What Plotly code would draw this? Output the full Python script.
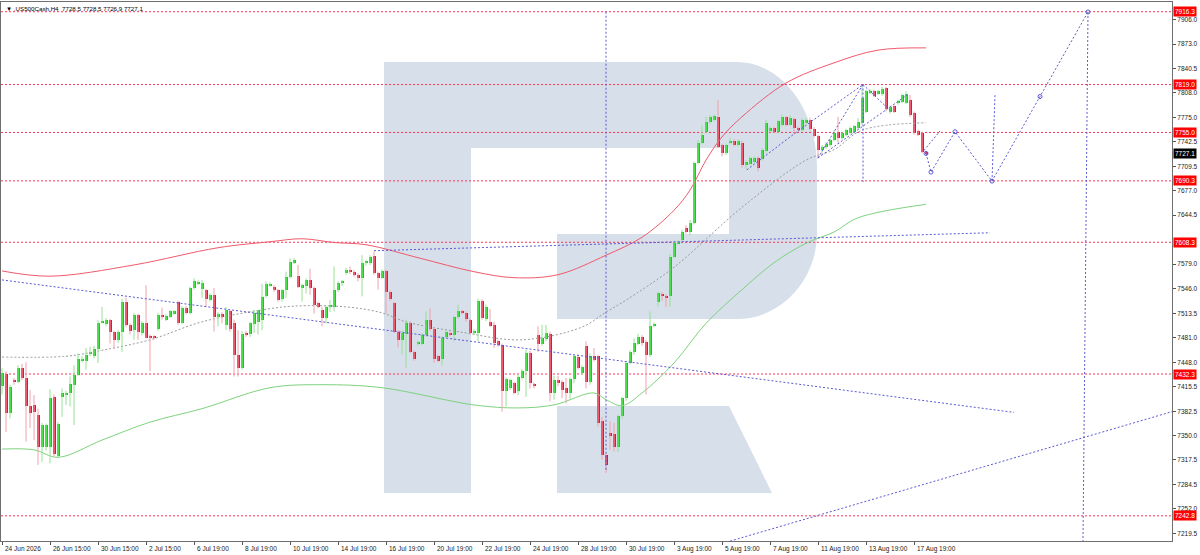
import plotly.graph_objects as go

# ---- price data (H4 bars) ----
OPEN = [7416, 7432, 7380, 7424, 7422, 7441, 7427, 7390, 7391, 7377,
        7335, 7335, 7335, 7401, 7323, 7402, 7404, 7407, 7418, 7431,
        7451, 7450, 7460, 7456, 7466, 7501, 7499, 7504, 7489, 7478,
        7489, 7528, 7498, 7491, 7511, 7487, 7500, 7483, 7483, 7492,
        7511, 7505, 7509, 7513, 7528, 7501, 7521, 7514, 7547, 7553,
        7546, 7544, 7531, 7538, 7509, 7513, 7498, 7516, 7501, 7458,
        7440, 7487, 7486, 7499, 7502, 7504, 7536, 7551, 7549, 7544,
        7532, 7544, 7562, 7581, 7563, 7547, 7550, 7558, 7547, 7527,
        7518, 7507, 7522, 7522, 7544, 7554, 7567, 7571, 7569, 7565,
        7560, 7580, 7580, 7590, 7567, 7561, 7570, 7542, 7527, 7489,
        7478, 7486, 7501, 7462, 7473, 7473, 7485, 7505, 7492, 7456,
        7453, 7482, 7487, 7485, 7508, 7516, 7514, 7505, 7488, 7487,
        7530, 7506, 7502, 7498, 7476, 7471, 7409, 7413, 7420, 7409,
        7427, 7436, 7461, 7419, 7484, 7473, 7479, 7486, 7407, 7424,
        7422, 7414, 7407, 7425, 7455, 7433, 7470, 7421, 7456, 7456,
        7369, 7324, 7354, 7352, 7335, 7376, 7400, 7447, 7462, 7473,
        7482, 7475, 7458, 7497, 7529, 7539, 7537, 7536, 7589, 7607,
        7611, 7627, 7622, 7634, 7714, 7741, 7756, 7769, 7772, 7776,
        7738, 7727, 7741, 7744, 7738, 7741, 7712, 7713, 7716, 7721,
        7719, 7730, 7757, 7761, 7756, 7765, 7775, 7765, 7773, 7761,
        7758, 7768, 7772, 7760, 7750, 7732, 7735, 7738, 7745, 7756,
        7747, 7752, 7754, 7756, 7761, 7767, 7783, 7808, 7810, 7807,
        7806, 7814, 7783, 7790, 7794, 7796, 7795, 7798, 7781, 7757,
        7754, 7728.5]
HIGH = [7440, 7436, 7418, 7427, 7444, 7446, 7448, 7411, 7404, 7386,
        7367, 7366, 7412, 7405, 7368, 7413, 7410, 7429, 7444, 7460,
        7456, 7467, 7469, 7470, 7504, 7522, 7507, 7506, 7490, 7491,
        7533, 7534, 7500, 7514, 7513, 7503, 7551, 7485, 7484, 7514,
        7521, 7512, 7518, 7518, 7530, 7523, 7523, 7549, 7560, 7558,
        7558, 7546, 7540, 7547, 7515, 7515, 7522, 7518, 7505, 7491,
        7490, 7490, 7502, 7518, 7518, 7553, 7556, 7555, 7551, 7546,
        7546, 7569, 7587, 7587, 7578, 7553, 7560, 7573, 7549, 7529,
        7522, 7524, 7531, 7576, 7556, 7558, 7574, 7576, 7571, 7567,
        7591, 7585, 7591, 7596, 7569, 7572, 7572, 7544, 7529, 7491,
        7491, 7505, 7503, 7464, 7477, 7487, 7516, 7520, 7495, 7458,
        7483, 7490, 7489, 7510, 7525, 7518, 7516, 7507, 7492, 7533,
        7532, 7525, 7519, 7502, 7478, 7473, 7428, 7426, 7422, 7432,
        7439, 7465, 7463, 7421, 7496, 7498, 7498, 7489, 7430, 7430,
        7424, 7427, 7428, 7458, 7458, 7444, 7476, 7460, 7467, 7458,
        7375, 7326, 7369, 7367, 7378, 7402, 7450, 7464, 7480, 7486,
        7484, 7478, 7516, 7501, 7542, 7542, 7539, 7592, 7611, 7611,
        7625, 7631, 7638, 7716, 7745, 7765, 7776, 7778, 7779, 7798,
        7740, 7740, 7748, 7746, 7746, 7744, 7718, 7723, 7723, 7723,
        7734, 7772, 7763, 7763, 7772, 7779, 7777, 7778, 7775, 7763,
        7774, 7774, 7775, 7762, 7752, 7738, 7742, 7747, 7758, 7776,
        7756, 7760, 7763, 7765, 7774, 7817, 7812, 7813, 7812, 7812,
        7816, 7816, 7791, 7792, 7799, 7807, 7810, 7805, 7783, 7759,
        7756, 7728.5]
LOW = [7405, 7355, 7373, 7418, 7420, 7424, 7342, 7360, 7344, 7311,
       7315, 7330, 7313, 7322, 7320, 7375, 7391, 7389, 7364, 7430,
       7448, 7438, 7456, 7453, 7447, 7500, 7496, 7473, 7466, 7474,
       7462, 7495, 7485, 7478, 7478, 7484, 7480, 7436, 7478, 7490,
       7505, 7503, 7507, 7511, 7498, 7499, 7512, 7512, 7545, 7551,
       7534, 7522, 7529, 7489, 7496, 7500, 7491, 7489, 7429, 7429,
       7438, 7482, 7482, 7487, 7485, 7491, 7534, 7549, 7542, 7529,
       7529, 7534, 7560, 7579, 7547, 7529, 7540, 7538, 7513, 7520,
       7496, 7500, 7515, 7516, 7542, 7550, 7565, 7566, 7562, 7556,
       7536, 7577, 7578, 7565, 7545, 7559, 7513, 7530, 7487, 7468,
       7458, 7440, 7460, 7450, 7470, 7471, 7482, 7490, 7447, 7448,
       7444, 7480, 7483, 7476, 7506, 7512, 7502, 7485, 7484, 7476,
       7505, 7503, 7495, 7467, 7469, 7382, 7389, 7411, 7405, 7404,
       7425, 7402, 7413, 7413, 7462, 7470, 7476, 7396, 7398, 7416,
       7400, 7393, 7399, 7420, 7438, 7431, 7413, 7418, 7449, 7362,
       7318, 7300, 7331, 7329, 7328, 7373, 7396, 7445, 7458, 7471,
       7470, 7405, 7455, 7495, 7522, 7530, 7522, 7522, 7587, 7605,
       7609, 7620, 7618, 7632, 7712, 7739, 7754, 7767, 7770, 7734,
       7723, 7725, 7739, 7736, 7736, 7708, 7706, 7711, 7714, 7703,
       7717, 7728, 7755, 7754, 7754, 7763, 7763, 7763, 7752, 7756,
       7756, 7766, 7758, 7748, 7720, 7728, 7733, 7736, 7743, 7740,
       7745, 7750, 7752, 7754, 7759, 7765, 7781, 7806, 7802, 7805,
       7804, 7783, 7780, 7781, 7792, 7794, 7793, 7776, 7752, 7750,
       7727, 7726.9]
CLOSE = [7433, 7380, 7415, 7421, 7440, 7427, 7390, 7380, 7381, 7335,
         7364, 7364, 7400, 7326, 7366, 7407, 7407, 7419, 7431, 7452,
         7453, 7458, 7462, 7466, 7501, 7502, 7504, 7488, 7478, 7489,
         7528, 7498, 7490, 7511, 7488, 7500, 7481, 7481, 7481, 7511,
         7508, 7510, 7516, 7516, 7500, 7521, 7514, 7547, 7556, 7555,
         7554, 7532, 7538, 7509, 7513, 7509, 7518, 7493, 7458, 7440,
         7486, 7484, 7500, 7514, 7518, 7535, 7553, 7553, 7544, 7531,
         7544, 7562, 7582, 7584, 7549, 7551, 7558, 7547, 7525, 7522,
         7507, 7522, 7524, 7544, 7554, 7556, 7571, 7568, 7564, 7560,
         7581, 7583, 7589, 7567, 7561, 7570, 7542, 7532, 7489, 7478,
         7487, 7501, 7462, 7453, 7475, 7485, 7504, 7492, 7453, 7450,
         7481, 7488, 7485, 7508, 7516, 7514, 7506, 7487, 7490, 7530,
         7507, 7522, 7497, 7474, 7471, 7409, 7425, 7424, 7407, 7428,
         7436, 7461, 7420, 7416, 7473, 7480, 7487, 7407, 7424, 7420,
         7411, 7407, 7425, 7456, 7441, 7442, 7421, 7456, 7451, 7367,
         7324, 7311, 7350, 7335, 7376, 7400, 7447, 7462, 7474, 7482,
         7474, 7458, 7496, 7499, 7540, 7537, 7535, 7589, 7607, 7609,
         7622, 7622, 7634, 7714, 7741, 7752, 7769, 7776, 7777, 7736,
         7727, 7738, 7744, 7738, 7744, 7712, 7716, 7721, 7721, 7707,
         7732, 7767, 7761, 7756, 7770, 7776, 7765, 7774, 7761, 7758,
         7771, 7772, 7760, 7750, 7732, 7736, 7740, 7745, 7754, 7747,
         7754, 7758, 7761, 7763, 7769, 7801, 7810, 7810, 7804, 7810,
         7813, 7787, 7789, 7783, 7797, 7805, 7806, 7778, 7754, 7752,
         7729, 7727.1]

# ---- indicator lines (bar index, price) ----
RED_I = [0, 12, 33, 54, 67, 75, 83, 91, 104.5, 118, 128, 139, 151, 160, 168, 172, 176, 180, 185, 196, 208, 219, 231]
RED_V = [7570, 7563, 7578, 7601, 7609, 7613, 7608, 7605, 7587, 7569, 7561, 7565, 7591, 7615, 7651, 7678, 7718, 7749, 7776, 7821, 7848, 7865, 7868]
GREEN_I = [0, 8, 14, 25, 37, 50, 67, 80, 95, 118, 129, 138, 148, 151, 155, 160, 168, 176, 185, 193, 201, 208, 214, 231]
GREEN_V = [7332, 7331, 7321, 7344, 7368, 7386, 7414, 7418, 7414, 7391, 7387, 7391, 7407, 7398, 7390, 7407, 7447, 7500, 7545, 7581, 7607, 7622, 7641, 7659]
GRAY_I = [0, 16, 25, 37, 50, 65, 73, 86, 95, 101, 115, 130, 145, 151, 156, 168, 185, 201, 208, 215, 231]
GRAY_V = [7455, 7456, 7464, 7478, 7502, 7518, 7523, 7522, 7514, 7502, 7488, 7478, 7495, 7515, 7531, 7575, 7655, 7718, 7732, 7758, 7768]

# ---- drawn objects: trend lines and forecast ----
TREND_LINES = [
    ([0, 253], [7558, 7381]),
    ([93, 247], [7597, 7621]),
    ([182, 292.5], [7209, 7382]),
    ([151, 151], [7916.3, 7304]),
    ([215.25, 215.25], [7819, 7689]),
    ([186.2, 198.25], [7705, 7754]),
    ([198.25, 215.25], [7754, 7819]),
    ([204, 215.25], [7721, 7819]),
    ([204, 226.25], [7721, 7805]),
    ([215.25, 222.5], [7819, 7782]),
]
FORECAST_I = [231, 232.25, 238.25, 247.5, 259.5, 271.5]
FORECAST_V = [7727, 7702, 7756, 7690, 7803, 7916]
FORECAST_EXTRA = [
    ([230.5, 234.5], [7731, 7757]),
    ([247.5, 248.25], [7690, 7805]),
    ([271.5, 270.25], [7916, 7209]),
]

LEVELS = [7916.3, 7819.0, 7755.0, 7690.3, 7608.3, 7432.3, 7242.8]
LAST_PRICE = 7727.1

# 7612.0 sits behind the 7608.3 level tag in the original, so it is left out here
Y_TICKS = [7906.0, 7873.0, 7840.5, 7808.0, 7775.0, 7742.5, 7709.5, 7677.0, 7644.5, 7579.0,
           7546.0, 7513.5, 7481.0, 7448.0, 7415.5, 7382.5, 7350.0, 7317.5, 7284.5, 7252.0, 7219.5]
X_LABELS = ["24 Jun 2026", "26 Jun 15:00", "30 Jun 15:00", "2 Jul 15:00", "6 Jul 19:00", "8 Jul 19:00",
            "10 Jul 19:00", "14 Jul 19:00", "16 Jul 19:00", "20 Jul 19:00", "22 Jul 19:00", "24 Jul 19:00",
            "28 Jul 19:00", "30 Jul 19:00", "3 Aug 19:00", "5 Aug 19:00", "7 Aug 19:00", "11 Aug 19:00",
            "13 Aug 19:00", "17 Aug 19:00"]
X_LABEL_IDX = [12 * k for k in range(len(X_LABELS))]

FONT = "Liberation Sans, Arial, DejaVu Sans"
UP_BODY, DOWN_BODY = "#00dc00", "#ee1030"
UP_WICK, DOWN_WICK = "#94e294", "#f2a0aa"
BLUE = "#5a5ad2"
LEVEL_RED = "#ff3355"
LOGO = "#d6dfea"


# watermark logo, drawn in plot pixels (plot area 1..1172 x 2..541)
def to_paper(x, y):
    return (x - 1) / 1171, (541 - y) / 539


def svg_path(cmds):
    out = []
    for c, pts in cmds:
        out.append(c + " ".join("%.5f,%.5f" % to_paper(x, y) for x, y in pts))
    return " ".join(out)


bowl = svg_path([("M", [(471, 62)]), ("L", [(737, 62)]),
                 ("C", [(781, 62), (817, 109), (817, 167)]), ("L", [(817, 233)]),
                 ("C", [(817, 280), (781, 319), (737, 319)]), ("L", [(557, 319)]),
                 ("L", [(557, 234)]), ("L", [(729, 234)]), ("L", [(729, 148)]),
                 ("L", [(471, 148)]), ("Z", [])])
leg = svg_path([("M", [(557, 406)]), ("L", [(729, 406)]), ("L", [(772, 493)]),
                ("L", [(557, 493)]), ("Z", [])])
bx0, by0 = to_paper(384, 493)
bx1, by1 = to_paper(471, 62)

shapes = [
    dict(type="rect", xref="paper", yref="paper", x0=bx0, y0=by0, x1=bx1, y1=by1,
         fillcolor=LOGO, line_width=0, layer="below"),
    dict(type="path", xref="paper", yref="paper", path=bowl, fillcolor=LOGO, line_width=0, layer="below"),
    dict(type="path", xref="paper", yref="paper", path=leg, fillcolor=LOGO, line_width=0, layer="below"),
]
for lv in LEVELS:
    shapes.append(dict(type="line", xref="paper", yref="y", x0=0, x1=1, y0=lv, y1=lv,
                       line=dict(color=LEVEL_RED, width=1, dash="2px,2px"), layer="below"))

fig = go.Figure()

# indicators
fig.add_trace(go.Scatter(x=RED_I, y=RED_V, mode="lines", line=dict(color="#f05a6a", width=1, shape="spline")))
fig.add_trace(go.Scatter(x=GREEN_I, y=GREEN_V, mode="lines", line=dict(color="#7ed27e", width=1, shape="spline")))
fig.add_trace(go.Scatter(x=GRAY_I, y=GRAY_V, mode="lines",
                         line=dict(color="#9a9a9a", width=1, dash="2px,2px", shape="spline")))

# candles: wicks then bodies
n = len(OPEN)
for up, wcol, bcol in [(True, UP_WICK, UP_BODY), (False, DOWN_WICK, DOWN_BODY)]:
    idx = [i for i in range(n) if (CLOSE[i] >= OPEN[i]) == up]
    wx, wy = [], []
    for i in idx:
        wx += [i, i, None]
        wy += [LOW[i], HIGH[i], None]
    fig.add_trace(go.Scatter(x=wx, y=wy, mode="lines", line=dict(color=wcol, width=1), hoverinfo="skip"))
    fig.add_trace(go.Bar(x=idx, base=[min(OPEN[i], CLOSE[i]) for i in idx],
                         y=[max(abs(CLOSE[i] - OPEN[i]), 0.9) for i in idx],
                         width=0.75, marker=dict(color=bcol, line_width=0)))

# drawn lines
for xs, ys in TREND_LINES:
    fig.add_trace(go.Scatter(x=xs, y=ys, mode="lines", line=dict(color=BLUE, width=1, dash="2px,2px")))
for xs, ys in FORECAST_EXTRA:
    fig.add_trace(go.Scatter(x=xs, y=ys, mode="lines", line=dict(color=BLUE, width=1, dash="2px,2px")))
fig.add_trace(go.Scatter(x=FORECAST_I, y=FORECAST_V, mode="lines+markers",
                         line=dict(color=BLUE, width=1, dash="2px,2px"),
                         marker=dict(symbol="circle-open", size=4, color=BLUE)))

annotations = [dict(x=0, y=1, xref="paper", yref="paper", xanchor="left", yanchor="top", xshift=3, yshift=-1,
                    text="▼ .US500Cash,H4  7728.5 7728.5 7726.9 7727.1", showarrow=False,
                    font=dict(family=FONT, size=6.2, color="#000"))]
for i, t in zip(X_LABEL_IDX, X_LABELS):
    annotations.append(dict(x=i, y=0, xref="x", yref="paper", xanchor="left", yanchor="top",
                            xshift=1, yshift=-2, text=t, showarrow=False,
                            font=dict(family=FONT, size=6.5, color="#222")))
for lv in LEVELS:
    annotations.append(dict(x=1, y=lv, xref="paper", yref="y", xanchor="left", yanchor="middle", xshift=1,
                            text="%.1f" % lv, showarrow=False, bgcolor="#ff0000", borderpad=1,
                            font=dict(family=FONT, size=6.5, color="#fff")))
annotations.append(dict(x=1, y=LAST_PRICE, xref="paper", yref="y", xanchor="left", yanchor="middle", xshift=1,
                        text="%.1f" % LAST_PRICE, showarrow=False, bgcolor="#000000", borderpad=1,
                        font=dict(family=FONT, size=6.5, color="#fff")))

fig.update_layout(
    width=1200, height=555,
    margin=dict(l=1, r=28, t=2, b=14),
    paper_bgcolor="white", plot_bgcolor="white",
    showlegend=False, barmode="overlay", bargap=0,
    shapes=shapes, annotations=annotations,
    xaxis=dict(range=[-0.25, 292.5], tickvals=X_LABEL_IDX, showticklabels=False, ticks="outside",
               ticklen=3, tickcolor="#555", showgrid=False, zeroline=False,
               showline=True, linecolor="#6e6e6e", mirror=True),
    yaxis=dict(range=[7209.2, 7929.3], side="right", tickvals=Y_TICKS,
               ticktext=["%.1f" % v for v in Y_TICKS], ticks="outside", ticklen=3, tickcolor="#555",
               tickfont=dict(family=FONT, size=6.5, color="#222"), showgrid=False, zeroline=False,
               showline=True, linecolor="#6e6e6e", mirror=True),
)

# drop the default page margin so the 1200x555 figure fills the window exactly
fig.write_html("out.html", config={"displayModeBar": False},
               post_script="document.body.style.margin='0';document.body.style.overflow='hidden';")
